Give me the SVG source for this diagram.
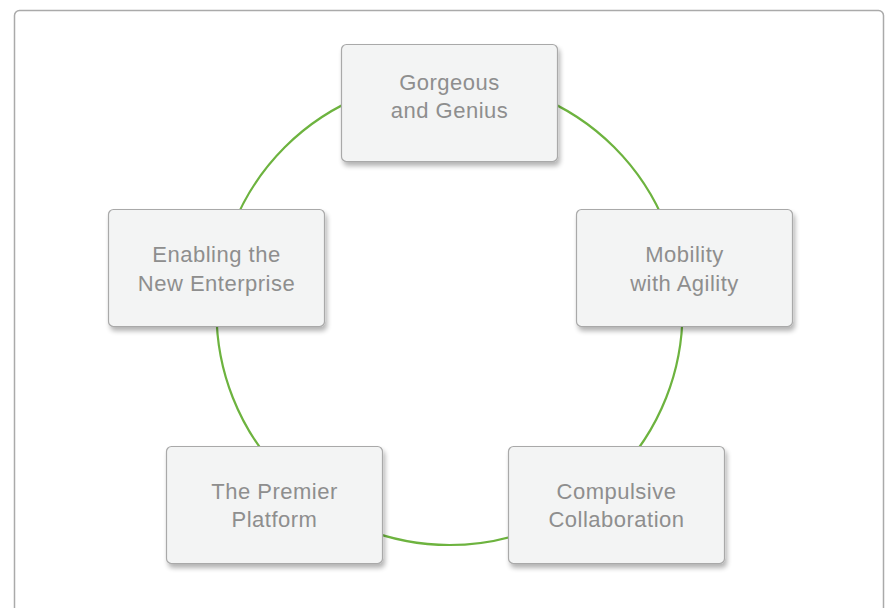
<svg xmlns="http://www.w3.org/2000/svg" width="885" height="608" viewBox="0 0 885 608">
<defs>
<filter id="sh" x="-10%" y="-10%" width="125%" height="130%">
<feGaussianBlur in="SourceAlpha" stdDeviation="2.5"/>
<feOffset dx="2" dy="4" result="b"/>
<feComponentTransfer><feFuncA type="linear" slope="0.3"/></feComponentTransfer>
<feMerge><feMergeNode/><feMergeNode in="SourceGraphic"/></feMerge>
</filter>
<style>
.box{fill:#f3f4f4;stroke:#a9a9a9;stroke-width:1.2;filter:url(#sh)}
.t{font-family:"Liberation Sans",Arial,sans-serif;font-size:22px;letter-spacing:0.5px;fill:#8e8e8e;text-anchor:middle}
.ring{fill:none;stroke:#6db33f;stroke-width:2.2}
</style>
</defs>
<rect x="0" y="0" width="885" height="608" fill="#ffffff"/>
<rect x="14.5" y="10.5" width="869" height="640" rx="5" fill="#ffffff" stroke="#aaaaaa" stroke-width="1.5"/>
<g id="connectors">
<circle class="ring" cx="449.5" cy="312" r="233"/>
</g>
<g id="n1">
<rect class="box" x="341.5" y="44.5" width="216" height="117" rx="5"/>
<text class="t" x="449.5" y="90">Gorgeous</text>
<text class="t" x="449.5" y="118">and Genius</text>
</g>
<g id="n2">
<rect class="box" x="576.5" y="209.5" width="216" height="117" rx="5"/>
<text class="t" x="684.5" y="262">Mobility</text>
<text class="t" x="684.5" y="291">with Agility</text>
</g>
<g id="n3">
<rect class="box" x="508.5" y="446.5" width="216" height="117" rx="5"/>
<text class="t" x="616.5" y="499">Compulsive</text>
<text class="t" x="616.5" y="527">Collaboration</text>
</g>
<g id="n4">
<rect class="box" x="166.5" y="446.5" width="216" height="117" rx="5"/>
<text class="t" x="274.5" y="499">The Premier</text>
<text class="t" x="274.5" y="527">Platform</text>
</g>
<g id="n5">
<rect class="box" x="108.5" y="209.5" width="216" height="117" rx="5"/>
<text class="t" x="216.5" y="262">Enabling the</text>
<text class="t" x="216.5" y="291">New Enterprise</text>
</g>
</svg>
